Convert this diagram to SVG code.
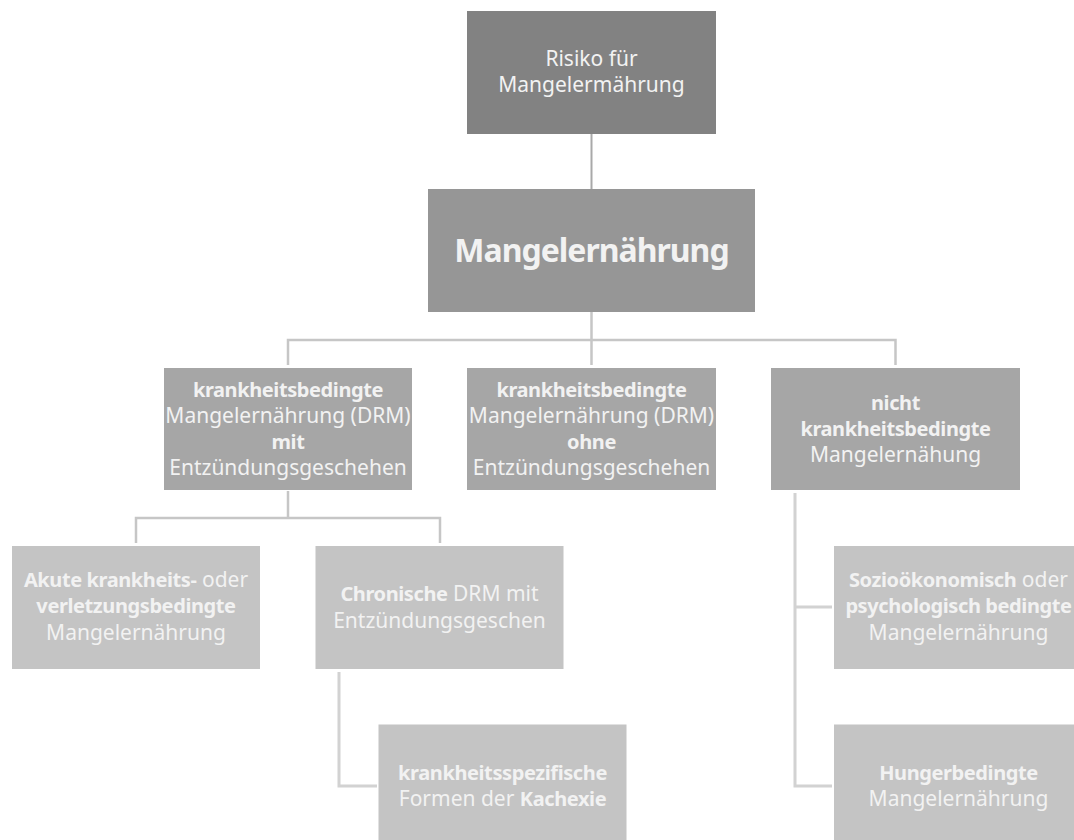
<svg xmlns="http://www.w3.org/2000/svg" width="1074" height="840" viewBox="0 0 1074 840">
<style>
text{font-family:"Noto Sans","Open Sans","DejaVu Sans",sans-serif;font-size:21px;fill:#f2f2f2;text-anchor:middle}
.b{font-weight:bold;font-size:20px;letter-spacing:-0.4px}
.title{font-size:32px;font-weight:bold;letter-spacing:-1px}
.l0{fill:#828282}
.l1{fill:#969696}
.l2{fill:#a6a6a6}
.l3{fill:#c4c4c4}
.c1{stroke:#a9a9a9;stroke-width:2;fill:none}
.c2{stroke:#c6c6c6;stroke-width:2.5;fill:none}
.c3{stroke:#d2d2d2;stroke-width:3;fill:none}
</style>
<rect width="1074" height="840" fill="#ffffff"/>
<g id="connectors">
<path class="c1" d="M591.5 134V189"/>
<path class="c2" d="M591.5 312V340M288 365V340H895.5V365M591.5 340V365"/>
<path class="c2" d="M288 491V518M136 543V518H440V543"/>
<path class="c3" d="M339 672V786H377"/>
<path class="c3" d="M795 493V786H832M795 607H832"/>
</g>
<g id="risiko">
<rect class="l0" x="467" y="11" width="249" height="123"/>
<text x="591.5" y="66">Risiko für</text>
<text x="591.5" y="92">Mangelermährung</text>
</g>
<g id="mangelernaehrung">
<rect class="l1" x="428" y="189" width="327" height="123"/>
<text class="title" x="591.5" y="262">Mangelernährung</text>
</g>
<g id="drm-mit">
<rect class="l2" x="164" y="368" width="248" height="122"/>
<text x="288" y="397" class="b">krankheitsbedingte</text>
<text x="288" y="423">Mangelernährung (DRM)</text>
<text x="288" y="449" class="b">mit</text>
<text x="288" y="475">Entzündungsgeschehen</text>
</g>
<g id="drm-ohne">
<rect class="l2" x="467" y="368" width="249" height="122"/>
<text x="591.5" y="397" class="b">krankheitsbedingte</text>
<text x="591.5" y="423">Mangelernährung (DRM)</text>
<text x="591.5" y="449" class="b">ohne</text>
<text x="591.5" y="475">Entzündungsgeschehen</text>
</g>
<g id="nicht-krankheitsbedingt">
<rect class="l2" x="771" y="368" width="249" height="122"/>
<text x="895.5" y="410" class="b">nicht</text>
<text x="895.5" y="436" class="b">krankheitsbedingte</text>
<text x="895.5" y="462">Mangelernähung</text>
</g>
<g id="akut">
<rect class="l3" x="12" y="546" width="248" height="123"/>
<text x="136" y="587"><tspan class="b">Akute krankheits-</tspan> oder</text>
<text x="136" y="613" class="b">verletzungsbedingte</text>
<text x="136" y="640">Mangelernährung</text>
</g>
<g id="chronisch">
<rect class="l3" x="315.5" y="546" width="248" height="123"/>
<text x="439.5" y="601"><tspan class="b">Chronische</tspan> DRM mit</text>
<text x="439.5" y="627.5">Entzündungsgeschen</text>
</g>
<g id="kachexie">
<rect class="l3" x="378.5" y="724.5" width="248" height="123"/>
<text x="502.5" y="780" class="b">krankheitsspezifische</text>
<text x="502.5" y="806">Formen der <tspan class="b">Kachexie</tspan></text>
</g>
<g id="sozio">
<rect class="l3" x="834" y="546" width="249" height="123"/>
<text x="958.5" y="587"><tspan class="b">Sozioökonomisch</tspan> oder</text>
<text x="958.5" y="613" class="b">psychologisch bedingte</text>
<text x="958.5" y="640">Mangelernährung</text>
</g>
<g id="hunger">
<rect class="l3" x="834" y="724.5" width="249" height="123"/>
<text x="958.5" y="780" class="b">Hungerbedingte</text>
<text x="958.5" y="806">Mangelernährung</text>
</g>
</svg>
